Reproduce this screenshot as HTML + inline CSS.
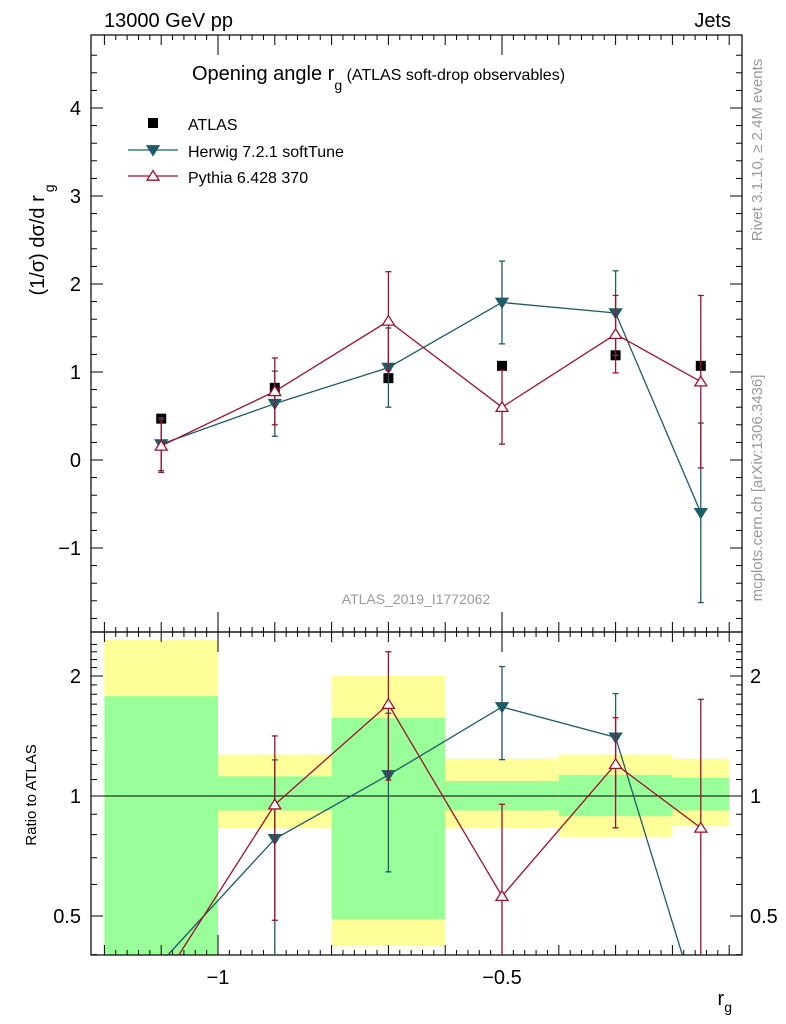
<!DOCTYPE html>
<html><head><meta charset="utf-8"><style>
html,body{margin:0;background:#fff;font-family:"Liberation Sans",sans-serif;overflow:hidden;width:786px;height:1024px}
svg{display:block}
svg text{font-family:"Liberation Sans",sans-serif}
</style></head><body>
<div style="position:relative;width:786px;height:1024px;overflow:hidden">
<svg id="c" width="786" height="1024" style="position:absolute;left:0;top:0" xmlns="http://www.w3.org/2000/svg"></svg>
<svg width="786" height="1024" style="position:absolute;left:0;top:0" xmlns="http://www.w3.org/2000/svg">
<text x="188" y="130" font-size="16">ATLAS</text>
<text x="188" y="157" font-size="16">Herwig 7.2.1 softTune</text>
<text x="188" y="183" font-size="16">Pythia 6.428 370</text>
<text x="104" y="27" font-size="20">13000 GeV pp</text>
<text x="731" y="27" font-size="20" text-anchor="end">Jets</text>
<text x="192" y="80" font-size="20">Opening angle r<tspan font-size="14" dy="10">g</tspan><tspan font-size="16" dy="-10"> (ATLAS soft-drop observables)</tspan></text>
<text x="416" y="604" font-size="14" fill="#999" text-anchor="middle">ATLAS_2019_I1772062</text>
<text transform="translate(44,240) rotate(-90)" font-size="20" text-anchor="middle">(1/σ) dσ/d r<tspan font-size="14" dy="10" dx="3">g</tspan></text>
<text transform="translate(36,795) rotate(-90)" font-size="15" text-anchor="middle">Ratio to ATLAS</text>
<text x="732" y="1005" font-size="20" text-anchor="end">r<tspan font-size="14" dy="7">g</tspan></text>
<text transform="translate(762,150) rotate(-90)" font-size="15" fill="#999" text-anchor="middle">Rivet 3.1.10, ≥ 2.4M events</text>
<text transform="translate(762,488) rotate(-90)" font-size="15" fill="#999" text-anchor="middle">mcplots.cern.ch [arXiv:1306.3436]</text>
</svg>
</div>
<script>
const xCenters=[-1.1,-0.9,-0.7,-0.5,-0.3,-0.15];
const binEdges=[-1.2,-1.0,-0.8,-0.6,-0.4,-0.2,-0.1];
const atlasVals=[0.47,0.82,0.93,1.07,1.19,1.07];
const herwigVals=[0.18,0.64,1.05,1.79,1.67,-0.6];
const herwigErr=[0.3,0.37,0.45,0.47,0.48,1.02];
const pythiaVals=[0.16,0.78,1.58,0.60,1.43,0.89];
const pythiaErr=[0.3,0.38,0.56,0.42,0.44,0.98];
const bandYellowHi=[2.46,1.27,2.0,1.24,1.27,1.24];
const bandYellowLo=[0.3,0.83,0.42,0.83,0.79,0.84];
const bandGreenHi=[1.78,1.12,1.57,1.09,1.13,1.11];
const bandGreenLo=[0.3,0.92,0.49,0.92,0.89,0.92];
const mainTicks=[-1,0,1,2,3,4];
const ratioTicks=[0.5,1,2];
const xTicks=[-1,-0.5];

const S=document.getElementById('c'),NS='http://www.w3.org/2000/svg';
function el(t,a,p){const e=document.createElementNS(NS,t);for(const k in a)e.setAttribute(k,a[k]);(p||S).appendChild(e);return e;}
const L=91,R=742,T=35,M=632,B=955;
const X=v=>218+(v+1)*568;
const Y=v=>460-v*88;
const YR=v=>v>0?796-Math.log2(v)*120:B+60;
const HC='#1d5b67',PC='#a0112f';
const cl=(y,a,b)=>Math.max(a,Math.min(b,y));

// clipped segment drawing
function seg(g,x1,y1,x2,y2,top,bot,c){
  if((y1<top&&y2<top)||(y1>bot&&y2>bot))return;
  const f=y=>x1+(x2-x1)*(y-y1)/(y2-y1);
  if(y1<top){x1=f(top);y1=top;} if(y1>bot){x1=f(bot);y1=bot;}
  if(y2<top){x2=x1+(x2-x1)*0;} 
  let X2=x2,Y2=y2;
  if(y2<top||y2>bot){const yy=y2<top?top:bot;X2=x1+(x2-x1)*(yy-y1)/(y2-y1);Y2=yy;}
  el('line',{x1:x1,y1:y1,x2:X2,y2:Y2,stroke:c,'stroke-width':1.3},g);
}

const gR=el('g',{});
for(let i=0;i<xCenters.length;i++){
  const x0=X(binEdges[i]),x1=X(binEdges[i+1]);
  const yh=cl(YR(bandYellowHi[i]),M,B),yl=cl(YR(bandYellowLo[i]),M,B);
  let r=el('rect',{x:x0,y:yh,width:x1-x0,height:yl-yh,fill:'#ffff99'},gR);
  
  
  const gh=cl(YR(bandGreenHi[i]),M,B),gl=cl(YR(bandGreenLo[i]),M,B);
  r=el('rect',{x:x0,y:gh,width:x1-x0,height:gl-gh,fill:'#99ff99'},gR);
  
  
}
el('line',{x1:L,x2:R,y1:YR(1),y2:YR(1),stroke:'#000','stroke-width':1},gR);

el('rect',{x:L,y:T,width:R-L,height:M-T,fill:'none',stroke:'#000','stroke-width':1.2});
el('rect',{x:L,y:M,width:R-L,height:B-M,fill:'none',stroke:'#000','stroke-width':1.2});

for(let v=-1.8;v<=4.8;v+=0.2){const y=Y(v);if(y<T||y>M)continue;const maj=Math.abs(v-Math.round(v))<1e-6;const l=maj?12:6;
 el('line',{x1:L,x2:L+l,y1:y,y2:y,stroke:'#000'});el('line',{x1:R,x2:R-l,y1:y,y2:y,stroke:'#000'});}
mainTicks.forEach(v=>{const t=el('text',{x:L-10,y:Y(v)+7,'text-anchor':'end','font-size':20});t.textContent=v<0?'\u2212'+(-v):v;
 });
for(let v=0.4;v<=2.5;v+=0.1){const y=YR(v);if(y<M||y>B)continue;const maj=ratioTicks.some(t=>Math.abs(t-v)<1e-6);const l=maj?12:6;
 el('line',{x1:L,x2:L+l,y1:y,y2:y,stroke:'#000'});el('line',{x1:R,x2:R-l,y1:y,y2:y,stroke:'#000'});}
ratioTicks.forEach(v=>{const y=YR(v)+7;let t=el('text',{x:L-10,y:y,'text-anchor':'end','font-size':20});t.textContent=v;
 
 t=el('text',{x:R+8,y:y,'font-size':20});t.textContent=v;
 });
for(let v=-1.2;v<=-0.08;v+=0.02){const x=X(v);if(x<L||x>R)continue;const r10=Math.abs(v*10-Math.round(v*10))<1e-6;const maj=xTicks.some(t=>Math.abs(t-v)<1e-6);const l=maj?20:(r10?10:5);
 [T,M].forEach(y=>el('line',{x1:x,x2:x,y1:y,y2:y+l,stroke:'#000'}));
 [M,B].forEach(y=>el('line',{x1:x,x2:x,y1:y,y2:y-l,stroke:'#000'}));}
xTicks.forEach(v=>{const t=el('text',{x:X(v),y:984,'text-anchor':'middle','font-size':20});t.textContent='\u2212'+(-v);
 });

function tri(g,x,y,down,c,fill){const s=6;const p=down?`${x-s},${y-s*0.7} ${x+s},${y-s*0.7} ${x},${y+s*0.9}`:`${x-s},${y+s*0.7} ${x+s},${y+s*0.7} ${x},${y-s*0.9}`;
 el('polygon',{points:p,fill:fill,stroke:c,'stroke-width':1.3},g);}
function series(name,vals,errs,c,down,fill,yf,ratio,top,bot){
 const g=el('g',{});
 const v=vals.map((d,i)=>ratio?d/atlasVals[i]:d),e=errs.map((d,i)=>ratio?d/atlasVals[i]:d);
 for(let i=0;i<v.length-1;i++)seg(g,X(xCenters[i]),yf(v[i]),X(xCenters[i+1]),yf(v[i+1]),top,bot,c);
 xCenters.forEach((x,i)=>{const y=yf(v[i]);if(y<top||y>bot)return;const xx=X(x);
  const ya=cl(yf(v[i]+e[i]),top,bot),yb=cl(yf(v[i]-e[i]),top,bot);
  el('line',{x1:xx,x2:xx,y1:ya,y2:yb,stroke:c,'stroke-width':1.3},g);
  [v[i]+e[i],v[i]-e[i]].forEach(q=>{const yq=yf(q);if(yq>=top&&yq<=bot)el('line',{x1:xx-3,x2:xx+3,y1:yq,y2:yq,stroke:c,'stroke-width':1.3},g);});
  tri(g,xx,y,down,c,fill);});
}
const gA=el('g',{});
xCenters.forEach((x,i)=>el('rect',{x:X(x)-5,y:Y(atlasVals[i])-5,width:10,height:10,fill:'#000'},gA));
series('herwig-series',herwigVals,herwigErr,HC,true,HC,Y,false,T,M);
series('pythia-series',pythiaVals,pythiaErr,PC,false,'#fff',Y,false,T,M);
series('herwig-ratio',herwigVals,herwigErr,HC,true,HC,YR,true,M,B);
series('pythia-ratio',pythiaVals,pythiaErr,PC,false,'#fff',YR,true,M,B);

el('rect',{x:148,y:118,width:10,height:10,fill:'#000'});
el('line',{x1:128,x2:178,y1:150,y2:150,stroke:HC,'stroke-width':1.3});tri(S,153,150,true,HC,HC);
el('line',{x1:128,x2:178,y1:176,y2:176,stroke:PC,'stroke-width':1.3});tri(S,153,176,false,PC,'#fff');
</script>
</body></html>
